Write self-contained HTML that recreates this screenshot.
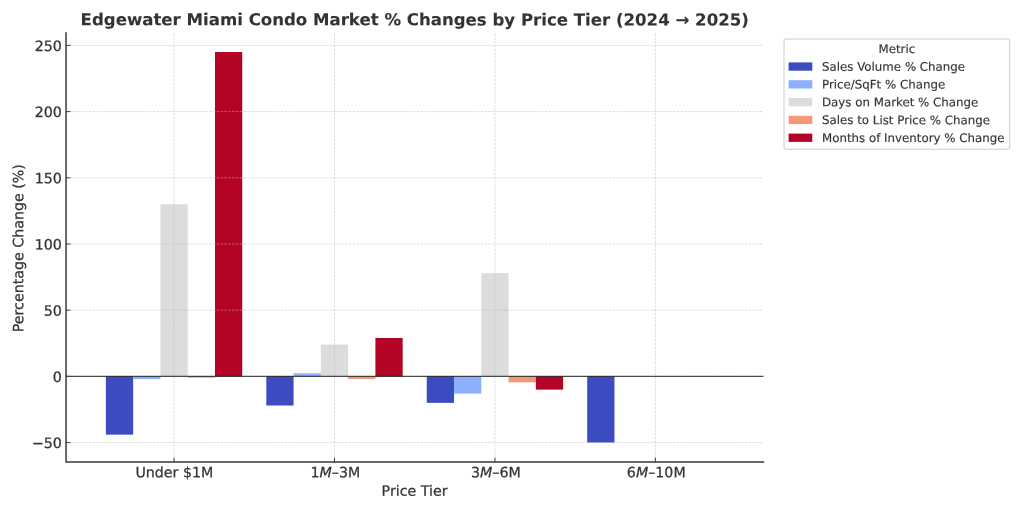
<!DOCTYPE html>
<html lang="en"><head><meta charset="utf-8"><title>Edgewater Miami Condo Market % Changes by Price Tier</title>
<style>html,body{margin:0;padding:0;background:#fff;}body{width:1024px;height:512px;overflow:hidden;}svg{display:block;}text{font-family:"DejaVu Sans","Liberation Sans",sans-serif;fill:#333333;stroke:#333333;stroke-width:0.25px;text-rendering:geometricPrecision;}</style></head><body>
<svg width="1024" height="512" viewBox="0 0 1024 512">
<rect width="1024" height="512" fill="#ffffff"/>
<g shape-rendering="auto">
<rect x="105.87" y="376.38" width="27.27" height="58.25" fill="#3b4cc0"/>
<rect x="133.15" y="376.38" width="27.27" height="2.65" fill="#8db0fe"/>
<rect x="160.42" y="204.27" width="27.27" height="172.10" fill="#dddcdc"/>
<rect x="187.70" y="376.38" width="27.27" height="1.32" fill="#f4987a"/>
<rect x="214.97" y="52.03" width="27.27" height="324.35" fill="#b40426"/>
<rect x="266.31" y="376.38" width="27.27" height="29.13" fill="#3b4cc0"/>
<rect x="293.59" y="373.33" width="27.27" height="3.04" fill="#8db0fe"/>
<rect x="320.86" y="344.61" width="27.27" height="31.77" fill="#dddcdc"/>
<rect x="348.14" y="376.38" width="27.27" height="2.65" fill="#f4987a"/>
<rect x="375.41" y="337.99" width="27.27" height="38.39" fill="#b40426"/>
<rect x="426.75" y="376.38" width="27.27" height="26.48" fill="#3b4cc0"/>
<rect x="454.03" y="376.38" width="27.27" height="17.21" fill="#8db0fe"/>
<rect x="481.30" y="273.12" width="27.27" height="103.26" fill="#dddcdc"/>
<rect x="508.58" y="376.38" width="27.27" height="5.96" fill="#f4987a"/>
<rect x="535.85" y="376.38" width="27.27" height="13.24" fill="#b40426"/>
<rect x="587.19" y="376.38" width="27.27" height="66.19" fill="#3b4cc0"/>
</g>
<g stroke="#b8b8c0" stroke-width="0.711" stroke-dasharray="2.63 1.14" fill="none" opacity="0.68">
<path d="M174.06 462.10V32.50"/>
<path d="M334.50 462.10V32.50"/>
<path d="M494.94 462.10V32.50"/>
<path d="M655.38 462.10V32.50"/>
<path d="M66.05 442.57H763.50"/>
<path d="M66.05 376.38H763.50"/>
<path d="M66.05 310.18H763.50"/>
<path d="M66.05 243.99H763.50"/>
<path d="M66.05 177.80H763.50"/>
<path d="M66.05 111.60H763.50"/>
<path d="M66.05 45.41H763.50"/>
</g>
<path d="M66.05 376.38H763.50" stroke="#000" stroke-opacity="0.68" stroke-width="1.200"/>
<g stroke="#444444" stroke-width="1.050">
<path d="M174.06 462.10v-4.30"/>
<path d="M334.50 462.10v-4.30"/>
<path d="M494.94 462.10v-4.30"/>
<path d="M655.38 462.10v-4.30"/>
<path d="M66.05 442.57h4.30"/>
<path d="M66.05 376.38h4.30"/>
<path d="M66.05 310.18h4.30"/>
<path d="M66.05 243.99h4.30"/>
<path d="M66.05 177.80h4.30"/>
<path d="M66.05 111.60h4.30"/>
<path d="M66.05 45.41h4.30"/>
</g>
<path d="M66.05 32.30V462.10H764.20" fill="none" stroke="#3a3a3a" stroke-width="1.500" stroke-linecap="butt" stroke-linejoin="miter"/>
<text transform="translate(61.90 448.07) rotate(0.03)" font-size="14.22" text-anchor="end">−50</text>
<text transform="translate(61.90 381.88) rotate(0.03)" font-size="14.22" text-anchor="end">0</text>
<text transform="translate(61.90 315.68) rotate(0.03)" font-size="14.22" text-anchor="end">50</text>
<text transform="translate(61.90 249.49) rotate(0.03)" font-size="14.22" text-anchor="end">100</text>
<text transform="translate(61.90 183.30) rotate(0.03)" font-size="14.22" text-anchor="end">150</text>
<text transform="translate(61.90 117.10) rotate(0.03)" font-size="14.22" text-anchor="end">200</text>
<text transform="translate(61.90 50.91) rotate(0.03)" font-size="14.22" text-anchor="end">250</text>
<text transform="translate(174.36 477.15) rotate(0.03)" font-size="14.22" text-anchor="middle">Under $1M</text>
<text transform="translate(335.40 477.15) rotate(0.03)" font-size="14.22" text-anchor="middle">1<tspan font-style="oblique">M</tspan>–3M</text>
<text transform="translate(495.84 477.15) rotate(0.03)" font-size="14.22" text-anchor="middle">3<tspan font-style="oblique">M</tspan>–6M</text>
<text transform="translate(656.28 477.15) rotate(0.03)" font-size="14.22" text-anchor="middle">6<tspan font-style="oblique">M</tspan>–10M</text>
<text transform="translate(414.60 495.70) rotate(0.03)" font-size="14.22" text-anchor="middle">Price Tier</text>
<text transform="translate(23.30 248.20) rotate(-89.97)" font-size="14.22" text-anchor="middle">Percentage Change (%)</text>
<text transform="translate(414.72 25.35) rotate(0.03)" font-size="16.59" text-anchor="middle" font-weight="bold" style="stroke-width:0.1px">Edgewater Miami Condo Market % Changes by Price Tier (2024 → 2025)</text>
<rect x="784.00" y="39.00" width="225.70" height="110.20" rx="2.4" ry="2.4" fill="#ffffff" fill-opacity="0.8" stroke="#c6c6c6" stroke-opacity="0.85" stroke-width="1.050"/>
<text transform="translate(896.85 53.00) rotate(0.03)" font-size="11.82" text-anchor="middle" style="stroke-width:0.15px">Metric</text>
<rect x="788.60" y="62.40" width="23.70" height="8.30" fill="#3b4cc0"/>
<text transform="translate(822.00 70.70) rotate(0.03)" font-size="11.82" text-anchor="start" style="stroke-width:0.15px">Sales Volume % Change</text>
<rect x="788.60" y="80.20" width="23.70" height="8.30" fill="#8db0fe"/>
<text transform="translate(822.00 88.50) rotate(0.03)" font-size="11.82" text-anchor="start" style="stroke-width:0.15px">Price/SqFt % Change</text>
<rect x="788.60" y="98.00" width="23.70" height="8.30" fill="#dddcdc"/>
<text transform="translate(822.00 106.30) rotate(0.03)" font-size="11.82" text-anchor="start" style="stroke-width:0.15px">Days on Market % Change</text>
<rect x="788.60" y="115.80" width="23.70" height="8.30" fill="#f4987a"/>
<text transform="translate(822.00 124.10) rotate(0.03)" font-size="11.82" text-anchor="start" style="stroke-width:0.15px">Sales to List Price % Change</text>
<rect x="788.60" y="133.60" width="23.70" height="8.30" fill="#b40426"/>
<text transform="translate(822.00 141.90) rotate(0.03)" font-size="11.82" text-anchor="start" style="stroke-width:0.15px">Months of Inventory % Change</text>
</svg></body></html>
